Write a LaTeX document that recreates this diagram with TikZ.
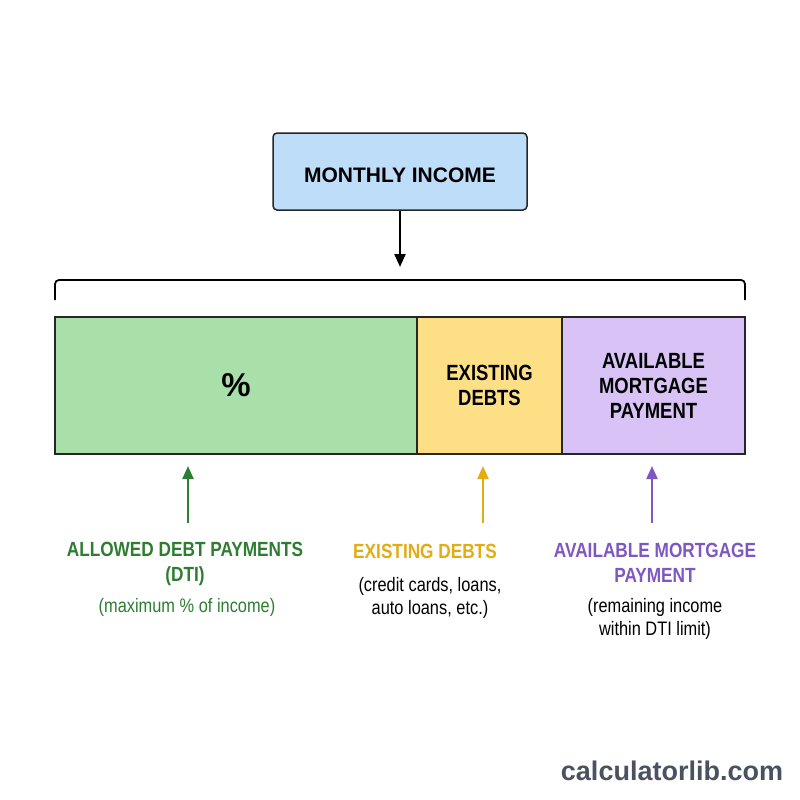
\documentclass[tikz,border=0pt]{standalone}
\usepackage{fontspec}
\setmainfont{Liberation Sans}
\newfontfamily\narrowsans[FakeStretch=0.84]{Liberation Sans}
\usetikzlibrary{arrows.meta,positioning}
\definecolor{incomeblue}{RGB}{190,221,248}
\definecolor{dtigreen}{RGB}{169,223,169}
\definecolor{debtyellow}{RGB}{253,224,134}
\definecolor{mortpurple}{RGB}{216,194,246}
\definecolor{labgreen}{RGB}{46,125,50}
\definecolor{labyellow}{RGB}{226,172,18}
\definecolor{labpurple}{RGB}{126,87,194}
\definecolor{sitegray}{RGB}{74,82,98}
\tikzset{
  topbox/.style={
    rectangle,
    rounded corners=4pt,
    draw=black!85,
    line width=1.5pt,
    fill=incomeblue,
    minimum width=254pt,
    minimum height=77pt,
    text height=29pt,
    text depth=7pt,
    font=\bfseries\fontsize{21}{25}\selectfont
  },
  segment/.style={
    rectangle,
    draw=black!85,
    line width=1.3pt,
    minimum height=137pt,
    inner sep=0pt,
    outer sep=0pt,
    align=center,
    font=\narrowsans\bfseries\fontsize{22}{25}\selectfont
  },
  headlabel/.style={
    align=center,
    inner sep=0pt,
    font=\narrowsans\bfseries\fontsize{20.5}{25}\selectfont
  },
  notelabel/.style={
    align=center,
    inner sep=0pt,
    font=\narrowsans\fontsize{19.5}{23}\selectfont
  },
  uparrow/.style={-{Triangle[length=13pt,width=11pt]}, line width=2.2pt}
}

\begin{document}
\begin{tikzpicture}[x=1pt, y=-1pt]
    \useasboundingbox[fill=white] (0,0) rectangle (800,800);

    \node[topbox] (income) at (400,171.5) {MONTHLY INCOME};
    \coordinate (incometip) at (400,267);

    \node[segment, fill=dtigreen, minimum width=362pt] (dti) at (236,385.5)
      {\normalfont\bfseries\fontsize{33}{33}\selectfont\%};
    \node[segment, fill=debtyellow, minimum width=145pt, right=0pt of dti] (debts)
      {EXISTING\\DEBTS};
    \node[segment, fill=mortpurple, minimum width=183pt, right=0pt of debts] (mortgage)
      {AVAILABLE\\MORTGAGE\\PAYMENT};

    \draw[uparrow] (income) -- (incometip);
    \draw[line width=1.8pt, rounded corners=4pt]
      ([yshift=17pt]dti.north west) -- ++(0,-20) -| ([yshift=17pt]mortgage.north east);

    % labels under the bar
    \node[headlabel, text=labgreen] (allowed) at (185,563.5)
      {ALLOWED DEBT PAYMENTS\\(DTI)};
    \node[notelabel, text=labgreen] (allowednote) at (187,607)
      {(maximum \% of income)};
    \node[headlabel, text=labyellow] (debtshead) at (425,551) {EXISTING DEBTS};
    \node[notelabel] (debtsnote) at (430,598)
      {(credit cards, loans,\\auto loans, etc.)};
    \node[headlabel, text=labpurple] (mortgagehead) at (655,563)
      {AVAILABLE MORTGAGE\\PAYMENT};
    \node[notelabel] (mortgagenote) at (655,619)
      {(remaining income\\within DTI limit)};

    \coordinate (dtifoot) at (188,523);
    \coordinate (dtitip) at (188,466);
    \coordinate (debtsfoot) at (483,523);
    \coordinate (debtstip) at (483,466);
    \coordinate (mortgagefoot) at (652,523);
    \coordinate (mortgagetip) at (652,466);
    \draw[uparrow, labgreen] (dtifoot) -- (dtitip);
    \draw[uparrow, labyellow] (debtsfoot) -- (debtstip);
    \draw[uparrow, labpurple] (mortgagefoot) -- (mortgagetip);

    \node[text=sitegray, font=\bfseries\fontsize{27}{30}\selectfont] (site) at (672,771)
      {calculatorlib.com};
\end{tikzpicture}
\end{document}
